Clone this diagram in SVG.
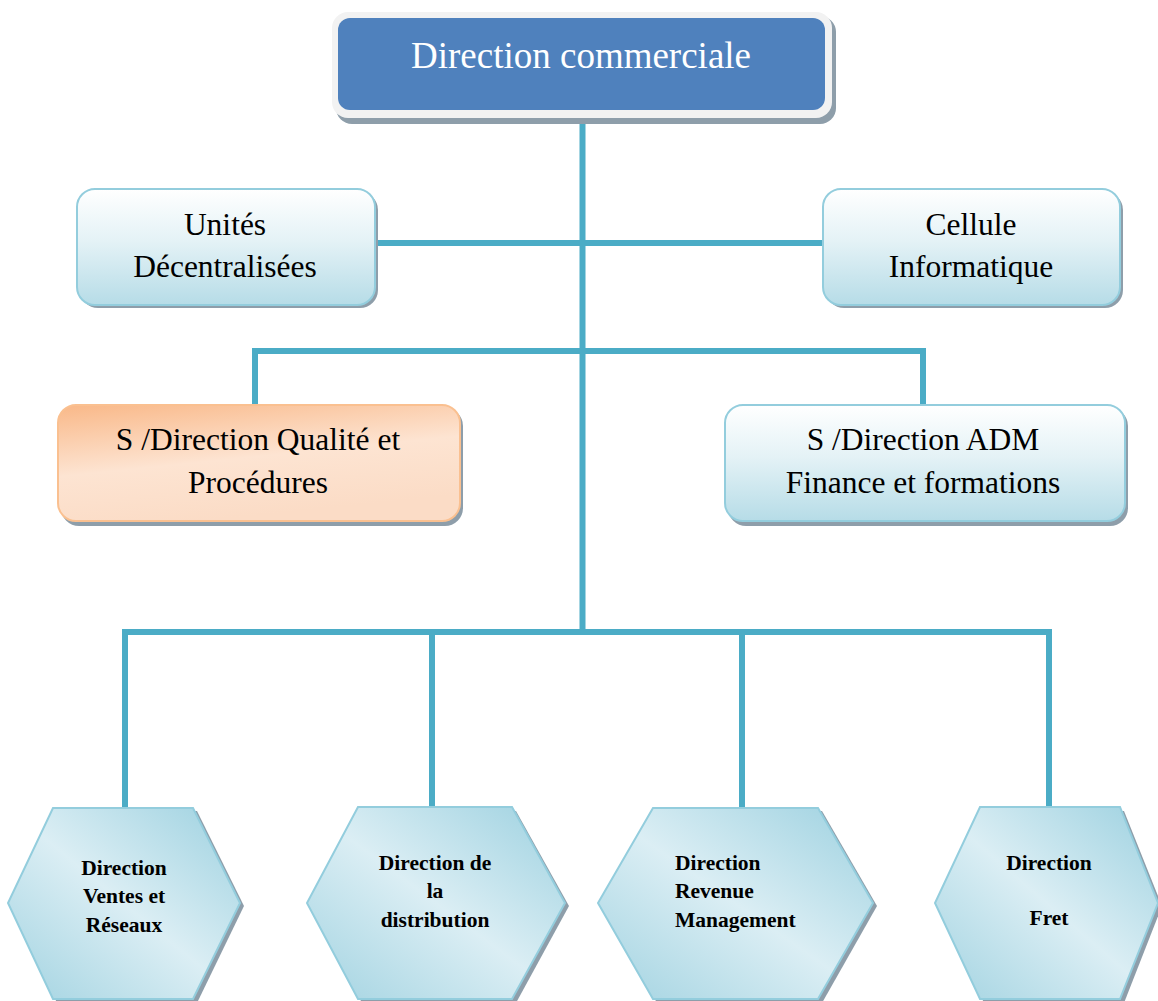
<svg xmlns="http://www.w3.org/2000/svg" width="1158" height="1001" viewBox="0 0 1158 1001">
<defs>
<linearGradient id="gBlue" x1="0" y1="0" x2="0" y2="1">
<stop offset="0" stop-color="#ffffff"/>
<stop offset="0.45" stop-color="#e4f2f6"/>
<stop offset="1" stop-color="#b6dce7"/>
</linearGradient>
<linearGradient id="gOrange" x1="0" y1="0" x2="0.35" y2="1">
<stop offset="0" stop-color="#f9b888"/>
<stop offset="0.55" stop-color="#fde4d2"/>
<stop offset="1" stop-color="#fbdcc6"/>
</linearGradient>
<linearGradient id="gHex" x1="1" y1="0" x2="0" y2="1">
<stop offset="0" stop-color="#9dd1e0"/>
<stop offset="0.5" stop-color="#dbeef4"/>
<stop offset="1" stop-color="#a2d3e1"/>
</linearGradient>
<style>
.conn{stroke:#4bacc6;stroke-width:6;fill:none;stroke-linecap:square}
.shadow{fill:#8e9eaa}
.box{fill:url(#gBlue);stroke:#93cddd;stroke-width:2}
.obox{fill:url(#gOrange);stroke:#fac090;stroke-width:2}
.hex{fill:url(#gHex);stroke:#93cddd;stroke-width:2}
.t{font-family:"Liberation Serif","Times New Roman",serif;fill:#000;text-anchor:middle;font-size:31.5px}
.tb{font-family:"Liberation Serif","Times New Roman",serif;fill:#000;font-weight:bold;font-size:21.5px}
</style>
</defs>
<g id="connectors">
<line class="conn" x1="582.5" y1="120" x2="582.5" y2="632"/>
<line class="conn" x1="376" y1="243" x2="823" y2="243"/>
<polyline class="conn" points="255,405 255,351 923,351 923,405"/>
<polyline class="conn" points="125,808 125,632 1049,632 1049,808"/>
<line class="conn" x1="432" y1="632" x2="432" y2="808"/>
<line class="conn" x1="742" y1="632" x2="742" y2="808"/>
</g>
<g id="node-direction-commerciale">
<rect x="336" y="16" width="500" height="108" rx="16" class="shadow"/>
<rect x="332" y="12" width="500" height="106" rx="16" fill="#f2f2f2"/>
<rect x="338" y="18" width="487" height="92" rx="12" fill="#4f81bd"/>
<text x="581" y="68" class="t" style="fill:#fff;font-size:37px">Direction commerciale</text>
</g>
<g id="node-unites">
<rect x="80" y="192" width="298" height="116" rx="18" class="shadow"/>
<rect x="77" y="189" width="298" height="116" rx="18" class="box"/>
<text x="225" y="235" class="t">Unités</text>
<text x="225" y="277" class="t">Décentralisées</text>
</g>
<g id="node-cellule">
<rect x="826" y="192" width="297" height="116" rx="18" class="shadow"/>
<rect x="823" y="189" width="297" height="116" rx="18" class="box"/>
<text x="971" y="235" class="t">Cellule</text>
<text x="971" y="277" class="t">Informatique</text>
</g>
<g id="node-qualite">
<rect x="61" y="408" width="402" height="118" rx="18" class="shadow"/>
<rect x="58" y="405" width="402" height="116" rx="18" class="obox"/>
<text x="258" y="450" class="t">S /Direction Qualité et</text>
<text x="258" y="493" class="t">Procédures</text>
</g>
<g id="node-adm">
<rect x="728" y="408" width="400" height="118" rx="18" class="shadow"/>
<rect x="725" y="405" width="400" height="116" rx="18" class="box"/>
<text x="923" y="450" class="t">S /Direction ADM</text>
<text x="923" y="493" class="t">Finance et formations</text>
</g>
<g id="node-ventes">
<polygon class="shadow" points="57,811 197,811 244,906 197,1003 57,1003 12,906"/>
<polygon class="hex" points="53,808 193,808 240,903 193,999 53,999 8,903"/>
<text class="tb" x="124" y="875" text-anchor="middle">Direction</text>
<text class="tb" x="124" y="903" text-anchor="middle">Ventes et</text>
<text class="tb" x="124" y="932" text-anchor="middle">Réseaux</text>
</g>
<g id="node-distribution">
<polygon class="shadow" points="362,811 516,811 569,906 516,1003 362,1003 311,906"/>
<polygon class="hex" points="358,807 512,807 565,903 512,999 358,999 307,903"/>
<text class="tb" x="435" y="870" text-anchor="middle">Direction de</text>
<text class="tb" x="435" y="898" text-anchor="middle">la</text>
<text class="tb" x="435" y="927" text-anchor="middle">distribution</text>
</g>
<g id="node-revenue">
<polygon class="shadow" points="657,811 822,811 877,906 822,1003 657,1003 602,906"/>
<polygon class="hex" points="653,808 818,808 873,903 818,999 653,999 598,903"/>
<text class="tb" x="675" y="870">Direction</text>
<text class="tb" x="675" y="898">Revenue</text>
<text class="tb" x="675" y="927">Management</text>
</g>
<g id="node-fret">
<polygon class="shadow" points="984,811 1124,811 1162,906 1124,1003 984,1003 939,906"/>
<polygon class="hex" points="980,807 1120,807 1158,903 1120,999 980,999 935,903"/>
<text class="tb" x="1049" y="870" text-anchor="middle">Direction</text>
<text class="tb" x="1049" y="925" text-anchor="middle">Fret</text>
</g>
</svg>
